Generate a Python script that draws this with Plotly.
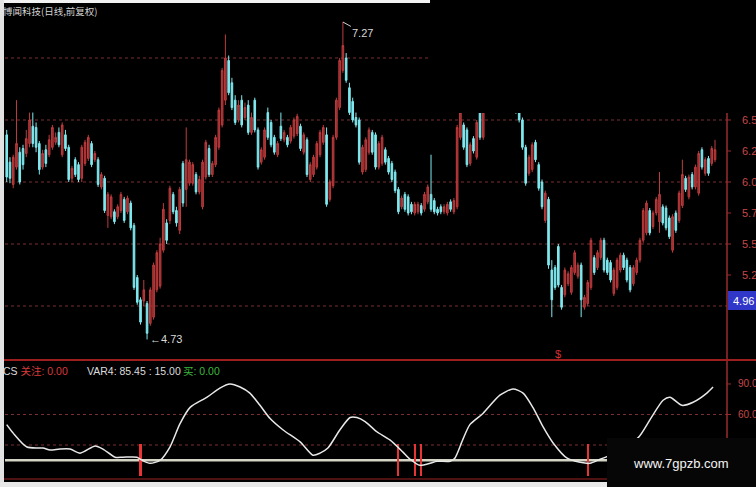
import plotly.graph_objects as go

W, H = 756, 487

# ---- daily candles (前复权) ----
opens = [6.38, 6.16, 5.98, 6.12, 6.24, 6.27, 6.23, 6.31, 6.45, 6.44,
         6.31, 6.12, 6.26, 6.22, 6.28, 6.32, 6.40, 6.22, 6.38, 6.28,
         6.03, 6.18, 6.14, 6.03, 6.15, 6.19, 6.31, 6.18, 6.18, 5.96,
         6.03, 5.73, 5.72, 5.76, 5.72, 5.77, 5.86, 5.76, 5.83, 5.65,
         5.23, 5.05, 5.04, 5.02, 4.86, 4.91, 5.13, 5.16, 5.45, 5.67,
         5.69, 5.90, 5.77, 5.61, 6.15, 5.94, 5.99, 5.99, 6.06, 5.92,
         5.80, 6.04, 6.27, 6.06, 6.14, 6.28, 6.46, 6.66, 6.98, 6.80,
         6.66, 6.50, 6.66, 6.52, 6.62, 6.40, 6.66, 6.42, 6.16, 6.20,
         6.56, 6.48, 6.36, 6.22, 6.45, 6.34, 6.36, 6.33, 6.37, 6.39,
         6.45, 6.24, 6.34, 6.02, 6.06, 6.12, 6.22, 6.32, 6.38, 5.86,
         5.97, 6.36, 6.60, 6.90, 7.00, 6.76, 6.65, 6.52, 6.50, 6.08,
         6.10, 6.24, 6.40, 6.38, 6.12, 6.15, 6.26, 6.19, 6.15, 6.08,
         5.94, 5.80, 5.90, 5.88, 5.82, 5.75, 5.76, 5.81, 5.78, 5.84,
         5.90, 5.85, 5.78, 5.80, 5.76, 5.75, 5.84, 5.76, 5.80, 6.36,
         6.46, 6.42, 6.15, 6.35, 6.20, 6.56, 6.36, 6.58, 6.72, 6.90,
         6.90, 6.82, 7.00, 6.92, 6.85, 6.70, 6.62, 6.60, 6.50, 6.28,
         6.07, 6.10, 6.32, 6.14, 6.00, 5.69, 5.86, 5.29, 5.31, 5.48,
         5.15, 5.09, 5.18, 5.11, 5.27, 5.24, 5.33, 4.99, 5.02, 5.15,
         5.39, 5.31, 5.39, 5.53, 5.37, 5.35, 5.10, 5.15, 5.29, 5.41,
         5.37, 5.31, 5.18, 5.27, 5.37, 5.53, 5.59, 5.77, 5.64, 5.75,
         5.68, 5.80, 5.79, 5.71, 5.45, 5.75, 5.69, 5.81, 6.03, 5.88,
         6.06, 5.96, 5.91, 6.26, 6.07, 6.19, 6.15, 6.18]
highs = [6.42, 6.20, 6.22, 6.66, 6.28, 6.30, 6.42, 6.56, 6.56, 6.48,
         6.33, 6.26, 6.30, 6.38, 6.46, 6.40, 6.44, 6.48, 6.42, 6.30,
         6.13, 6.20, 6.16, 6.30, 6.34, 6.38, 6.33, 6.25, 6.20, 6.08,
         6.05, 5.92, 5.90, 5.78, 5.82, 5.92, 5.88, 5.89, 5.85, 5.67,
         5.25, 5.07, 5.21, 5.04, 5.15, 5.35, 5.45, 5.55, 5.83, 5.70,
         5.97, 5.92, 5.80, 5.96, 6.17, 6.44, 6.18, 6.16, 6.08, 6.05,
         6.18, 6.34, 6.30, 6.17, 6.38, 6.60, 6.92, 7.19, 7.02, 6.84,
         6.70, 6.66, 6.70, 6.64, 6.66, 6.56, 6.68, 6.44, 6.28, 6.44,
         6.60, 6.50, 6.38, 6.33, 6.56, 6.42, 6.38, 6.46, 6.52, 6.55,
         6.47, 6.40, 6.36, 6.16, 6.22, 6.33, 6.42, 6.46, 6.44, 6.02,
         6.38, 6.68, 7.00, 7.29, 7.04, 6.80, 6.68, 6.56, 6.52, 6.30,
         6.36, 6.44, 6.42, 6.40, 6.33, 6.38, 6.28, 6.21, 6.17, 6.10,
         5.96, 5.89, 5.92, 5.90, 5.84, 5.84, 5.84, 5.83, 5.92, 5.98,
         6.22, 5.87, 5.80, 5.82, 5.82, 5.84, 5.86, 5.87, 6.46, 6.58,
         6.48, 6.44, 6.32, 6.37, 6.50, 6.58, 6.58, 6.74, 6.92, 6.98,
         6.94, 7.02, 7.04, 6.95, 6.87, 6.72, 6.64, 6.62, 6.52, 6.30,
         6.22, 6.32, 6.34, 6.16, 6.02, 5.93, 5.88, 5.37, 5.33, 5.50,
         5.17, 5.31, 5.28, 5.33, 5.45, 5.35, 5.35, 5.09, 5.21, 5.55,
         5.41, 5.45, 5.55, 5.55, 5.39, 5.37, 5.31, 5.39, 5.43, 5.43,
         5.39, 5.33, 5.33, 5.39, 5.55, 5.79, 5.85, 5.79, 5.77, 5.88,
         6.08, 5.82, 5.81, 5.73, 5.74, 5.77, 5.93, 6.18, 6.05, 6.06,
         6.08, 6.14, 6.25, 6.28, 6.20, 6.21, 6.29, 6.34]
lows = [6.00, 5.99, 5.95, 6.10, 5.98, 6.10, 6.20, 6.28, 6.28, 6.24,
        6.06, 6.10, 6.12, 6.20, 6.26, 6.30, 6.28, 6.20, 6.25, 6.00,
        6.00, 6.04, 6.00, 6.00, 6.13, 6.17, 6.12, 6.16, 5.96, 5.94,
        5.75, 5.63, 5.70, 5.66, 5.70, 5.75, 5.67, 5.74, 5.61, 5.13,
        5.01, 4.85, 5.00, 4.73, 4.84, 4.89, 5.11, 5.14, 5.43, 5.50,
        5.66, 5.74, 5.64, 5.58, 5.80, 5.80, 5.97, 5.97, 5.90, 5.90,
        5.78, 6.02, 6.04, 6.04, 6.12, 6.26, 6.44, 6.62, 6.70, 6.58,
        6.46, 6.48, 6.44, 6.50, 6.38, 6.38, 6.40, 6.10, 6.14, 6.18,
        6.34, 6.28, 6.22, 6.20, 6.33, 6.32, 6.28, 6.31, 6.35, 6.37,
        6.25, 6.22, 6.04, 6.00, 6.04, 6.10, 6.20, 6.30, 5.80, 5.84,
        5.95, 6.34, 6.58, 6.88, 6.80, 6.54, 6.48, 6.44, 6.14, 6.06,
        6.08, 6.22, 6.22, 6.10, 6.10, 6.13, 6.14, 6.06, 6.00, 5.91,
        5.74, 5.78, 5.76, 5.73, 5.74, 5.73, 5.74, 5.73, 5.76, 5.82,
        5.76, 5.74, 5.73, 5.74, 5.74, 5.73, 5.76, 5.74, 5.78, 6.34,
        6.26, 6.12, 6.13, 6.23, 6.18, 6.34, 6.34, 6.56, 6.70, 6.84,
        6.78, 6.80, 6.90, 6.83, 6.68, 6.58, 6.55, 6.48, 6.26, 5.97,
        6.05, 6.08, 6.16, 5.93, 5.78, 5.67, 5.30, 4.91, 5.13, 5.15,
        4.97, 5.07, 5.16, 5.09, 5.25, 5.22, 4.91, 4.97, 5.00, 5.13,
        5.25, 5.29, 5.37, 5.27, 5.25, 5.19, 5.08, 5.13, 5.27, 5.29,
        5.19, 5.11, 5.16, 5.25, 5.35, 5.51, 5.57, 5.57, 5.62, 5.73,
        5.59, 5.65, 5.61, 5.54, 5.43, 5.59, 5.67, 5.79, 5.92, 5.86,
        5.94, 5.94, 5.89, 6.10, 6.05, 6.05, 6.13, 6.16]
closes = [6.04, 6.03, 6.20, 6.31, 6.00, 6.14, 6.35, 6.50, 6.31, 6.28,
          6.10, 6.23, 6.15, 6.34, 6.44, 6.36, 6.30, 6.46, 6.27, 6.02,
          6.11, 6.06, 6.02, 6.28, 6.32, 6.36, 6.14, 6.23, 5.98, 6.06,
          5.77, 5.90, 5.88, 5.68, 5.80, 5.90, 5.69, 5.87, 5.63, 5.15,
          5.03, 4.87, 5.13, 4.78, 5.13, 5.33, 5.43, 5.50, 5.78, 5.53,
          5.95, 5.76, 5.67, 5.94, 5.83, 6.18, 6.16, 6.14, 5.92, 6.02,
          6.16, 6.32, 6.06, 6.15, 6.36, 6.58, 6.90, 7.00, 6.72, 6.60,
          6.48, 6.62, 6.46, 6.60, 6.40, 6.52, 6.42, 6.12, 6.26, 6.42,
          6.36, 6.30, 6.24, 6.31, 6.35, 6.40, 6.30, 6.44, 6.50, 6.53,
          6.27, 6.38, 6.06, 6.14, 6.20, 6.31, 6.40, 6.44, 5.82, 6.00,
          6.36, 6.66, 6.98, 7.10, 6.82, 6.56, 6.50, 6.46, 6.16, 6.28,
          6.34, 6.42, 6.24, 6.12, 6.31, 6.36, 6.16, 6.08, 6.02, 5.93,
          5.76, 5.87, 5.78, 5.75, 5.76, 5.82, 5.82, 5.75, 5.90, 5.96,
          5.78, 5.76, 5.75, 5.76, 5.80, 5.82, 5.78, 5.85, 6.44, 6.56,
          6.28, 6.14, 6.30, 6.25, 6.48, 6.36, 6.56, 6.72, 6.90, 6.86,
          6.80, 7.00, 6.92, 6.85, 6.70, 6.62, 6.58, 6.50, 6.28, 5.99,
          6.20, 6.30, 6.18, 5.95, 5.80, 5.91, 5.33, 5.05, 5.15, 5.17,
          4.99, 5.29, 5.26, 5.31, 5.43, 5.33, 5.05, 5.07, 5.19, 5.53,
          5.27, 5.43, 5.53, 5.29, 5.27, 5.21, 5.29, 5.37, 5.41, 5.31,
          5.21, 5.13, 5.31, 5.37, 5.53, 5.77, 5.83, 5.59, 5.75, 5.86,
          5.90, 5.67, 5.63, 5.56, 5.72, 5.61, 5.91, 6.06, 5.94, 6.04,
          5.96, 6.12, 6.23, 6.12, 6.18, 6.07, 6.27, 6.26]
days = list(range(len(opens)))

# ---- price scale texts ----
grid_prices = [6.5, 6.0, 5.5, 5.0]
upper_grid_price = 7.0
label_prices = [6.5, 6.25, 6.0, 5.75, 5.5, 5.25]
label_texts = ["6.5", "6.2", "6.0", "5.7", "5.5", "5.2"]
high_mark = (103, 7.29, "7.27")
low_mark = (43, 4.73, "←4.73")
cursor_price = "4.96"

# ---- VAR4 oscillator ----
var4_day = [0, 1.9, 6.2, 11.1, 13.3, 16.3, 19.4, 22.5, 27.1, 29.5,
            33.2, 35.6, 39.9, 41.5, 43.9, 47.0, 50.0, 53.1, 56.2, 61.4,
            65.3, 68.4, 71.5, 74.5, 77.6, 80.7, 84.6, 89.9, 93.8, 96.0,
            98.4, 102.1, 105.2, 107.3, 109.8, 113.4, 117.4, 121.4, 123.6, 126.6,
            129.7, 131.8, 135.8, 137.3, 139.7, 141.9, 145.9, 151.1, 155.1, 158.2,
            161.2, 164.3, 167.4, 171.7, 175.7, 178.7, 181.8, 184.2, 193.4, 197.1,
            201.1, 203.2, 206.9, 210.3, 214.5, 216.4]
var4_val = [50, 42, 28, 27, 25, 26, 26, 22, 29, 26,
            18, 18, 18, 15, 12, 15, 28, 51, 67, 77,
            86, 90, 87, 81, 69, 56, 45, 33, 20, 22,
            27, 45, 57, 57, 53, 43, 35, 23, 16, 10,
            12, 14, 14, 17, 35, 50, 61, 79, 85, 81,
            67, 48, 32, 17, 13, 12, 16, 19, 37, 55,
            74, 77, 69, 72, 81, 87]
base_level = 15
osc_grid = [60, 30]
osc_labels = [90, 60]
signal_days = [41, 120, 125, 127, 178]
signal_top = [31, 31, 31, 31, 31]
sell_mark_day = 169

# ---- pixel frame ----
first_px, last_px = 6.7, 715.0
step = (last_px - first_px) / (len(days) - 1)
x_range = [-first_px / step, (W - first_px) / step]
split_py = 360
price_range = [7.4677 - split_py / 124.0, 7.4677]
osc_range = [(475.5 - H) / 1.017, (475.5 - split_py) / 1.017]
axis_px = 727


def px(v):
    return v / W


def py(v):
    return 1 - v / H


GRID = "#7a3030"
AXIS_RED = "#9a2c2c"
LABEL_RED = "#c84848"
FONT = "Arial"
CJK = "Arial, Noto Sans CJK SC"

fig = go.Figure()
fig.add_trace(go.Candlestick(
    x=days, open=opens, high=highs, low=lows, close=closes,
    increasing=dict(line=dict(color="#be3c3e", width=1), fillcolor="#962a2a"),
    decreasing=dict(line=dict(color="#7fe9ef", width=1), fillcolor="#7fe9ef"),
    whiskerwidth=0, hoverinfo="skip", xaxis="x", yaxis="y"))
fig.add_trace(go.Bar(x=signal_days, y=signal_top, width=0.65,
                     marker=dict(color="#e83434", line=dict(width=0)),
                     xaxis="x2", yaxis="y2", hoverinfo="skip"))
fig.add_trace(go.Scatter(x=var4_day, y=var4_val, mode="lines",
                         line=dict(color="#e8e8e8", width=1.5, shape="spline", smoothing=0.7),
                         xaxis="x2", yaxis="y2", hoverinfo="skip"))

shapes = []
for p in grid_prices:
    shapes.append(dict(type="line", xref="paper", yref="y", x0=px(5), x1=px(axis_px), y0=p, y1=p,
                       line=dict(color=GRID, width=1, dash="dot"), layer="below"))
shapes.append(dict(type="line", xref="paper", yref="y", x0=px(5), x1=px(430),
                   y0=upper_grid_price, y1=upper_grid_price,
                   line=dict(color=GRID, width=1, dash="dot"), layer="below"))
for v in osc_grid:
    shapes.append(dict(type="line", xref="paper", yref="y2", x0=px(5), x1=px(axis_px), y0=v, y1=v,
                       line=dict(color=GRID, width=1, dash="dot"), layer="below"))
shapes.append(dict(type="line", xref="paper", yref="y2", x0=px(5), x1=px(axis_px),
                   y0=base_level, y1=base_level, line=dict(color="#d4d4c4", width=2.5), layer="below"))
# blank upper-right block
shapes.append(dict(type="rect", xref="paper", yref="paper", x0=px(430), x1=1, y0=py(113), y1=1,
                   fillcolor="#000000", line=dict(width=0), layer="above"))
# right scale line and ticks
shapes.append(dict(type="line", xref="paper", yref="paper", x0=px(axis_px), x1=px(axis_px),
                   y0=py(113), y1=0, line=dict(color=AXIS_RED, width=1.5), layer="above"))
for p in label_prices:
    shapes.append(dict(type="line", xref="paper", yref="y", x0=px(axis_px), x1=px(axis_px + 4),
                       y0=p, y1=p, line=dict(color=AXIS_RED, width=1), layer="above"))
for v in osc_labels:
    shapes.append(dict(type="line", xref="paper", yref="y2", x0=px(axis_px), x1=px(axis_px + 4),
                       y0=v, y1=v, line=dict(color=AXIS_RED, width=1), layer="above"))
# panel separators
shapes.append(dict(type="line", xref="paper", yref="paper", x0=0, x1=1, y0=py(split_py), y1=py(split_py),
                   line=dict(color="#9c1e1e", width=2), layer="above"))
shapes.append(dict(type="line", xref="paper", yref="paper", x0=0, x1=px(607), y0=py(479), y1=py(479),
                   line=dict(color="#6a1818", width=1.5), layer="above"))
# window edges
shapes.append(dict(type="rect", xref="paper", yref="paper", x0=0, x1=px(430), y0=py(3), y1=1,
                   fillcolor="#f2f2f2", line=dict(width=0), layer="above"))
shapes.append(dict(type="rect", xref="paper", yref="paper", x0=0, x1=px(4), y0=0, y1=1,
                   fillcolor="#e2e2e2", line=dict(width=0), layer="above"))
shapes.append(dict(type="rect", xref="paper", yref="paper", x0=0, x1=px(607), y0=0, y1=py(482),
                   fillcolor="#e8e8e8", line=dict(width=0), layer="above"))
# cursor price box
shapes.append(dict(type="rect", xref="paper", yref="paper", x0=px(728), x1=1, y0=py(310), y1=py(291),
                   fillcolor="#2f36c8", line=dict(width=0), layer="above"))
# watermark block
shapes.append(dict(type="rect", xref="paper", yref="paper", x0=px(607), x1=1, y0=0, y1=py(438),
                   fillcolor="#060606", line=dict(width=0), layer="above"))

ann = []
ann.append(dict(text="博闻科技(日线,前复权)", xref="paper", yref="paper", x=px(0.5), y=py(11),
                xanchor="left", yanchor="middle", showarrow=False,
                font=dict(family="Noto Sans CJK SC", size=9.5, color="#d2d2d2")))
for p, t in zip(label_prices, label_texts):
    ann.append(dict(text=t, xref="paper", yref="y", x=px(739.5), y=p, xanchor="left", yanchor="middle",
                    showarrow=False, font=dict(family=FONT, size=11, color=LABEL_RED)))
for v in osc_labels:
    ann.append(dict(text=f"{v:.1f}", xref="paper", yref="y2", x=px(735.5), y=v, xanchor="left",
                    yanchor="middle", showarrow=False, font=dict(family=FONT, size=10, color=LABEL_RED)))
ann.append(dict(text=cursor_price, xref="paper", yref="paper", x=px(731), y=py(300.5), xanchor="left",
                yanchor="middle", showarrow=False, font=dict(family=FONT, size=11, color="#ffffff")))
ann.append(dict(text=high_mark[2], x=high_mark[0], y=high_mark[1], xref="x", yref="y",
                showarrow=True, ax=20, ay=11, arrowhead=0, arrowwidth=1, arrowcolor="#cfcfcf",
                standoff=0, font=dict(family=FONT, size=11, color="#d8d8d8")))
ann.append(dict(text=low_mark[2], x=low_mark[0], y=low_mark[1], xref="x", yref="y", xanchor="left",
                yanchor="middle", xshift=1, showarrow=False,
                font=dict(family=FONT, size=11, color="#d8d8d8")))
ann.append(dict(text="$", x=sell_mark_day, y=price_range[0] + 0.05, xref="x", yref="y",
                xanchor="center", yanchor="middle", showarrow=False,
                font=dict(family=FONT, size=11, color="#d83030")))
ann.append(dict(text='<span style="color:#dcdcdc">CS </span><span style="color:#d83a3a">关注: 0.00</span>',
                xref="paper", yref="paper", x=px(0.5), y=py(371), xanchor="left", yanchor="middle",
                showarrow=False, font=dict(family=CJK, size=10.5)))
ann.append(dict(text="VAR4: 85.45 : 15.00", xref="paper", yref="paper", x=px(85), y=py(371),
                xanchor="left", yanchor="middle", showarrow=False,
                font=dict(family=CJK, size=10.5, color="#dcdcdc")))
ann.append(dict(text="买: 0.00", xref="paper", yref="paper", x=px(181), y=py(371),
                xanchor="left", yanchor="middle", showarrow=False,
                font=dict(family=CJK, size=10.5, color="#3cb83c")))
ann.append(dict(text="www.7gpzb.com", xref="paper", yref="paper", x=px(681), y=py(463),
                xanchor="center", yanchor="middle", showarrow=False,
                font=dict(family="Arial", size=13, color="#f4f4f4")))

fig.update_layout(
    width=W, height=H, margin=dict(l=0, r=0, t=0, b=0),
    paper_bgcolor="#000000", plot_bgcolor="#000000", showlegend=False,
    xaxis=dict(domain=[0, 1], range=x_range, visible=False, anchor="y",
               rangeslider=dict(visible=False), fixedrange=True),
    yaxis=dict(domain=[1 - split_py / H, 1], range=price_range, visible=False, anchor="x"),
    xaxis2=dict(domain=[0, 1], range=x_range, visible=False, anchor="y2"),
    yaxis2=dict(domain=[0, 1 - split_py / H], range=osc_range, visible=False, anchor="x2"),
    shapes=shapes, annotations=ann, bargap=0,
)

fig.write_html("out.html")
